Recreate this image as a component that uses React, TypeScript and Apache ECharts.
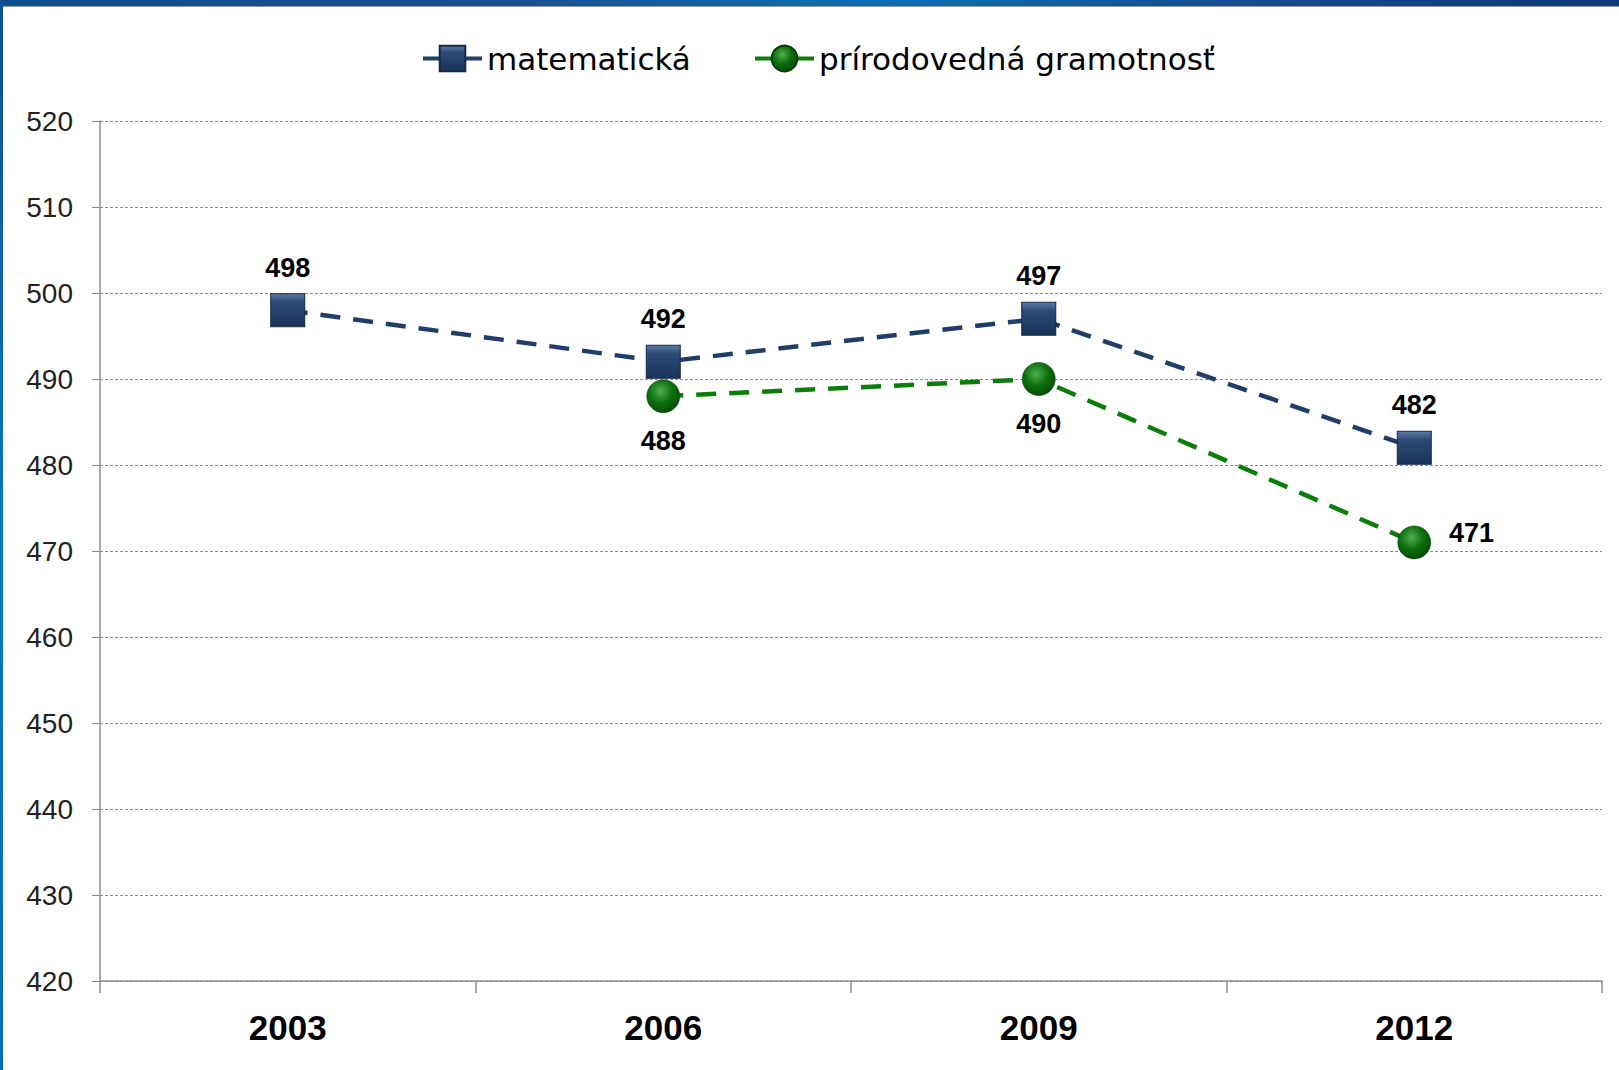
import React, { useEffect, useRef } from "react";
import * as echarts from "echarts";

const categories = ["2003", "2006", "2009", "2012"];
const mathValues: (number | null)[] = [498, 492, 497, 482];
const scienceValues: (number | null)[] = [null, 488, 490, 471];
const seriesNames = ["matematická", "prírodovedná gramotnosť"];
const yMin = 420;
const yMax = 520;
const yStep = 10;

const NAVY = "#1f3d66";
const GREEN = "#0a7d0a";

export default function App() {
  const ref = useRef<HTMLDivElement>(null);
  useEffect(() => {
    if (!ref.current) return;
    const chart = echarts.init(ref.current, null, { renderer: "svg" });
    const squareFill = {
      type: "linear", x: 0, y: 0, x2: 0, y2: 1,
      colorStops: [
        { offset: 0, color: "#5d7ba4" },
        { offset: 0.25, color: "#2c4b77" },
        { offset: 1, color: "#1a3358" },
      ],
    };
    const circleFill = {
      type: "radial", x: 0.42, y: 0.35, r: 0.7,
      colorStops: [
        { offset: 0, color: "#4db04d" },
        { offset: 0.5, color: "#0e700e" },
        { offset: 1, color: "#044804" },
      ],
    };
    const labelBase = {
      show: true,
      fontFamily: "Liberation Sans, Arial, sans-serif",
      fontWeight: "bold",
      fontSize: 27,
      color: "#000",
    };
    const legendBase = {
      top: 38,
      itemWidth: 59,
      itemHeight: 32,
      selectedMode: false,
      textStyle: { fontFamily: "DejaVu Sans", fontSize: 31, color: "#000" },
      lineStyle: { type: "solid", width: 4 },
    };
    chart.setOption({
      animation: false,
      backgroundColor: "#ffffff",
      graphic: [
        {
          type: "rect", left: 0, top: 0, z: 100,
          shape: { width: 1619, height: 6 },
          style: {
            fill: {
              type: "linear", x: 0, y: 0, x2: 1, y2: 0,
              colorStops: [
                { offset: 0, color: "#0d4d8c" },
                { offset: 0.3, color: "#1b4f8f" },
                { offset: 0.55, color: "#0b6fb2" },
                { offset: 0.8, color: "#17488a" },
                { offset: 1, color: "#0c3a7a" },
              ],
            },
          },
        },
        {
          type: "rect", left: 0, top: 6, z: 100,
          shape: { width: 1619, height: 1 },
          style: { fill: "#9a9a9a" },
        },
        {
          type: "rect", left: 0, top: 0, z: 100,
          shape: { width: 3, height: 1070 },
          style: {
            fill: {
              type: "linear", x: 0, y: 0, x2: 0, y2: 1,
              colorStops: [
                { offset: 0, color: "#0f4f95" },
                { offset: 0.5, color: "#0a78c0" },
                { offset: 1, color: "#0a6cb6" },
              ],
            },
          },
        },
      ],
      legend: [
        { ...legendBase, left: 416, data: [seriesNames[0]] },
        { ...legendBase, left: 748, data: [seriesNames[1]] },
      ],
      grid: { left: 100, right: 17, top: 121, bottom: 89, outerBoundsMode: "none" },
      xAxis: {
        type: "category",
        data: categories,
        boundaryGap: true,
        axisLine: { lineStyle: { color: "#8c8c8c", width: 1.5 } },
        axisTick: { show: true, length: 12, lineStyle: { color: "#8c8c8c", width: 1.5 } },
        axisLabel: {
          margin: 29,
          fontFamily: "Liberation Sans, Arial, sans-serif",
          fontWeight: "bold",
          fontSize: 35,
          color: "#000",
        },
      },
      yAxis: {
        type: "value",
        min: yMin,
        max: yMax,
        interval: yStep,
        axisLine: { show: true, lineStyle: { color: "#8c8c8c", width: 1.5 } },
        axisTick: { show: true, length: 8, lineStyle: { color: "#8c8c8c", width: 1 } },
        splitLine: { lineStyle: { color: "#8c8c8c", width: 1, type: [3, 2] } },
        axisLabel: {
          margin: 27,
          fontFamily: "Liberation Sans, Arial, sans-serif",
          fontSize: 28,
          color: "#222",
        },
      },
      series: [
        {
          name: seriesNames[0],
          type: "line",
          data: mathValues,
          symbol: "rect",
          symbolSize: [34, 33],
          itemStyle: { color: squareFill, borderColor: "#142a4a", borderWidth: 1 },
          lineStyle: { color: NAVY, width: 4.5, type: [20, 13] },
          label: { ...labelBase, position: "top", distance: 12 },
          z: 3,
        },
        {
          name: seriesNames[1],
          type: "line",
          data: scienceValues.map((v, i) =>
            i === scienceValues.length - 1
              ? { value: v, label: { position: "right", distance: 18, offset: [0, -9] } }
              : v
          ),
          symbol: "circle",
          symbolSize: 33,
          connectNulls: false,
          itemStyle: { color: circleFill, borderColor: "#053d05", borderWidth: 0.5 },
          lineStyle: { color: GREEN, width: 4.5, type: [20, 13] },
          label: { ...labelBase, position: "bottom", distance: 15 },
          z: 2,
        },
      ],
    });
    return () => chart.dispose();
  }, []);
  return (
    <div
      ref={ref}
      style={{ position: "absolute", left: 0, top: 0, width: 1619, height: 1070 }}
    />
  );
}
